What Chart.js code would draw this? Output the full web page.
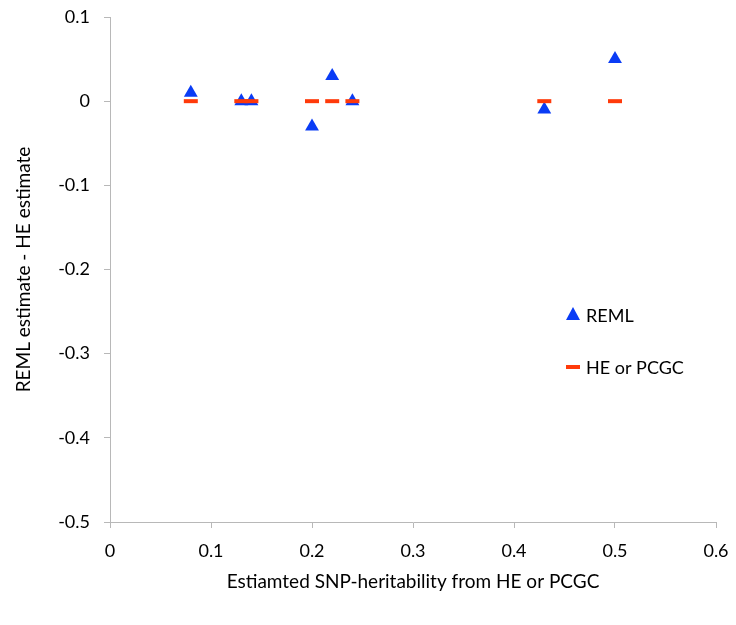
<!DOCTYPE html>
<html>
<head>
<meta charset="utf-8">
<script src="https://cdn.jsdelivr.net/npm/chart.js@4"></script>
<style>
  html, body { margin: 0; padding: 0; background: #fff; }
  #wrap { width: 736px; height: 625px; }
</style>
</head>
<body>
<div id="wrap"><canvas id="myChart" width="736" height="625"></canvas></div>
<script>
// x values: estimated SNP-heritability
const heritability = [0.08, 0.13, 0.14, 0.2, 0.22, 0.24, 0.43, 0.5];
// REML estimate - HE estimate
const remlDiff = [0.01, 0, 0, -0.03, 0.03, 0, -0.01, 0.05];
// HE or PCGC reference line (always zero)
const heDiff = [0, 0, 0, 0, 0, 0, 0, 0];

const seriesNames = ['REML', 'HE or PCGC'];
const blue = '#0a3cf5';
const red = '#ff3a0a';
const axisGrey = '#b8b8b8';
const fontFamily = 'Lato, "Open Sans", sans-serif';

let toPoints = (xs, ys) => xs.map((x, i) => ({ x: x, y: ys[i] }));

// small legend drawn inside the plot, like the original
const sideLegend = {
  id: 'sideLegend',
  afterDraw(chart) {
    const ctx = chart.ctx;
    ctx.save();
    ctx.font = '18px ' + fontFamily;
    ctx.fillStyle = '#000';
    ctx.textBaseline = 'middle';
    // REML triangle
    ctx.fillStyle = blue;
    ctx.beginPath();
    ctx.moveTo(573, 307);
    ctx.lineTo(580, 320);
    ctx.lineTo(566, 320);
    ctx.closePath();
    ctx.fill();
    ctx.fillStyle = '#000';
    ctx.fillText(seriesNames[0], 586, 316);
    // HE dash
    ctx.fillStyle = red;
    ctx.fillRect(566, 365, 14, 4);
    ctx.fillStyle = '#000';
    ctx.fillText(seriesNames[1], 586, 368);
    ctx.restore();
  }
};

const context = document.getElementById('myChart').getContext('2d');
const myChart = new Chart(context, {
  type: 'scatter',
  data: {
    datasets: [{
      label: seriesNames[0],
      data: toPoints(heritability, remlDiff),
      pointStyle: 'triangle',
      pointRadius: 8,
      pointHoverRadius: 8,
      backgroundColor: blue,
      borderColor: blue,
      borderWidth: 0,
      order: 1
    }, {
      label: seriesNames[1],
      data: toPoints(heritability, heDiff),
      pointStyle: 'line',
      pointRadius: 7,
      pointHoverRadius: 7,
      backgroundColor: red,
      borderColor: red,
      borderWidth: 4,
      order: 0
    }]
  },
  options: {
    responsive: false,
    animation: false,
    layout: { padding: { left: 10, right: 20, top: 17, bottom: 32 } },
    plugins: {
      legend: { display: false },
      tooltip: { enabled: false }
    },
    scales: {
      x: {
        type: 'linear',
        min: 0,
        max: 0.6,
        ticks: {
          stepSize: 0.1,
          color: '#000',
          padding: 12,
          font: { family: fontFamily, size: 18 },
          callback: (v) => Number(v.toFixed(1)).toString()
        },
        grid: { drawOnChartArea: false, drawTicks: true, tickLength: 6, color: axisGrey },
        border: { color: axisGrey, width: 1 },
        title: {
          display: true,
          text: 'Estiamted SNP-heritability from HE or PCGC',
          color: '#000',
          font: { family: fontFamily, size: 19 },
          padding: { top: 0, bottom: 0 }
        },
        afterFit: (scale) => {
          scale.height = 71;
          scale.paddingLeft = 0;
          scale.paddingRight = 0;
        }
      },
      y: {
        type: 'linear',
        min: -0.5,
        max: 0.1,
        ticks: {
          stepSize: 0.1,
          color: '#000',
          padding: 14,
          font: { family: fontFamily, size: 18 },
          callback: (v) => Number(v.toFixed(1)).toString()
        },
        grid: { drawOnChartArea: false, drawTicks: true, tickLength: 6, color: axisGrey },
        border: { color: axisGrey, width: 1 },
        title: {
          display: true,
          text: 'REML estimate - HE estimate',
          color: '#000',
          font: { family: fontFamily, size: 19 },
          padding: { top: 2, bottom: 4 }
        },
        afterFit: (scale) => {
          scale.width = 100;
          scale.paddingTop = 0;
          scale.paddingBottom = 0;
        }
      }
    }
  },
  plugins: [sideLegend]
});
</script>
</body>
</html>
